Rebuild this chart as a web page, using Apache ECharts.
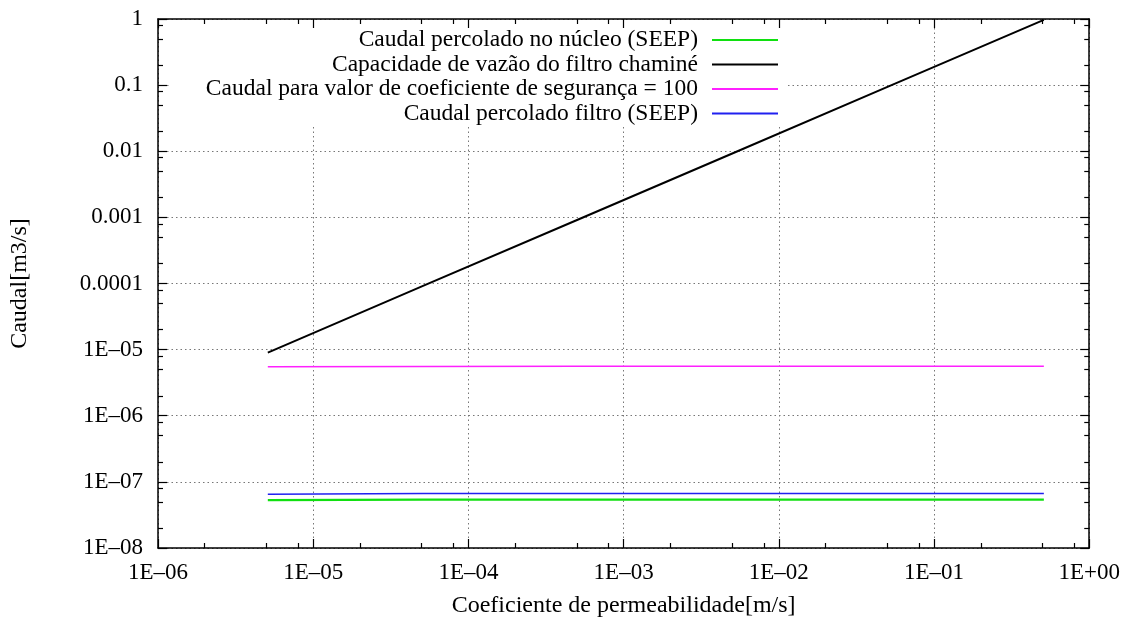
<!DOCTYPE html>
<html>
<head>
<meta charset="utf-8">
<script src="https://cdn.jsdelivr.net/npm/echarts@6/dist/echarts.min.js"></script>
<style>html,body{margin:0;padding:0;background:#fff;}#c{width:1123px;height:623px;}</style>
</head>
<body>
<div id="c"></div>
<script>
// ---- data ----
const permeabilidade = [5.1e-6, 5.1e-5, 5.1e-4, 5.1e-3, 5.1e-2, 5.1e-1];
const caudalNucleo   = [5.3e-8, 5.4e-8, 5.4e-8, 5.4e-8, 5.4e-8, 5.4e-8];
const capacidadeFiltro = [9.0e-6, 9.2e-5, 9.3e-4, 9.4e-3, 9.6e-2, 0.97];
const caudalSeguranca = [5.5e-6, 5.55e-6, 5.6e-6, 5.6e-6, 5.6e-6, 5.6e-6];
const caudalFiltro   = [6.5e-8, 6.7e-8, 6.7e-8, 6.7e-8, 6.7e-8, 6.7e-8];

const seriesNames = [
  'Caudal percolado no núcleo (SEEP)',
  'Capacidade de vazão do filtro chaminé',
  'Caudal para valor de coeficiente de segurança = 100',
  'Caudal percolado filtro (SEEP)'
];
const xTickLabels = ['1E–06', '1E–05', '1E–04', '1E–03', '1E–02', '1E–01', '1E+00'];
const yTickLabels = ['1E–08', '1E–07', '1E–06', '1E–05', '0.0001', '0.001', '0.01', '0.1', '1'];
const minorMantissas = [2, 5, 8];
const xDecades = [-6, -5, -4, -3, -2, -1];
const yDecades = [-8, -7, -6, -5, -4, -3, -2, -1];

const xMinor = [];
xDecades.forEach(d => minorMantissas.forEach(m => xMinor.push(m * Math.pow(10, d))));
const yMinor = [];
yDecades.forEach(d => minorMantissas.forEach(m => yMinor.push(m * Math.pow(10, d))));

const FONT = 'Liberation Serif';
const FS_TICK = 23;
const FS_LEG = 23.5;
const FS_NAME = 24;
const X_MIN = 1e-6, X_MAX = 1, Y_MIN = 1e-8, Y_MAX = 1;

function pair(xs, ys) { return xs.map((x, i) => [x, ys[i]]); }

const frameLine = { show: true, lineStyle: { color: '#000', width: 1.5 } };

function tickAxis(kind, position, opts) {
  return {
    type: 'log', logBase: 10, position: position,
    min: kind === 'x' ? X_MIN : Y_MIN, max: kind === 'x' ? X_MAX : Y_MAX,
    z: 10,
    axisLine: opts.line ? frameLine : { show: false },
    axisTick: Object.assign({ show: true, inside: true, length: opts.len, lineStyle: { color: '#000', width: 1.2 } },
      opts.custom ? { customValues: opts.custom } : {}),
    axisLabel: { show: false },
    splitLine: { show: false }
  };
}

const chart = echarts.init(document.getElementById('c'), null, { renderer: 'canvas' });
const colors = ['#10e010', '#000000', '#ff20ff', '#2020f0'];
const widths = [2.2, 2, 1.5, 1.5];
const datas = [caudalNucleo, capacidadeFiltro, caudalSeguranca, caudalFiltro];

chart.setOption({
  animation: false,
  backgroundColor: '#fff',
  grid: { left: 157, top: 19, right: 32, bottom: 75 },
  legend: {
    orient: 'vertical',
    align: 'right',
    right: 335,
    top: 20,
    padding: [8, 10, 0, 36],
    backgroundColor: '#fff',
    icon: 'rect',
    itemWidth: 66,
    itemHeight: 2,
    itemGap: 0.5,
    selectedMode: false,
    data: seriesNames,
    textStyle: { fontFamily: FONT, fontSize: FS_LEG, color: '#000', padding: [0, 9, 0, 0] }
  },
  xAxis: [
    {
      type: 'log', logBase: 10, position: 'bottom', min: X_MIN, max: X_MAX,
      name: 'Coeficiente de permeabilidade[m/s]', nameLocation: 'middle', nameGap: 46,
      nameTextStyle: { fontFamily: FONT, fontSize: FS_NAME, color: '#000' },
      axisLine: frameLine,
      axisTick: { show: true, inside: true, length: 9, lineStyle: { color: '#000', width: 1.2 } },
      axisLabel: {
        fontFamily: FONT, fontSize: FS_TICK, color: '#000', margin: 13,
        formatter: v => xTickLabels[Math.round(Math.log10(v)) + 6]
      },
      splitLine: { show: true, lineStyle: { color: '#777', width: 1, type: [1.5, 3] } }
    },
    tickAxis('x', 'top', { line: true, len: 9 }),
    tickAxis('x', 'bottom', { line: false, len: 5, custom: xMinor }),
    tickAxis('x', 'top', { line: false, len: 5, custom: xMinor })
  ],
  yAxis: [
    {
      type: 'log', logBase: 10, position: 'left', min: Y_MIN, max: Y_MAX,
      name: 'Caudal[m3/s]', nameLocation: 'middle', nameGap: 126, nameRotate: 90,
      nameTextStyle: { fontFamily: FONT, fontSize: FS_NAME, color: '#000' },
      axisLine: { show: false },
      axisTick: { show: false },
      axisLabel: {
        fontFamily: FONT, fontSize: FS_TICK, color: '#000', margin: 15,
        formatter: v => yTickLabels[Math.round(Math.log10(v)) + 8]
      },
      splitLine: { show: true, lineStyle: { color: '#777', width: 1, type: [1.5, 3] } }
    },
    tickAxis('y', 'left', { line: true, len: 9 }),
    tickAxis('y', 'right', { line: true, len: 9 }),
    tickAxis('y', 'left', { line: false, len: 5, custom: yMinor }),
    tickAxis('y', 'right', { line: false, len: 5, custom: yMinor })
  ],
  series: seriesNames.map((name, i) => ({
    name: name,
    type: 'line',
    xAxisIndex: 0, yAxisIndex: 0,
    symbol: 'none',
    z: 3,
    color: colors[i],
    lineStyle: { color: colors[i], width: widths[i] },
    data: pair(permeabilidade, datas[i])
  }))
});
</script>
</body>
</html>
